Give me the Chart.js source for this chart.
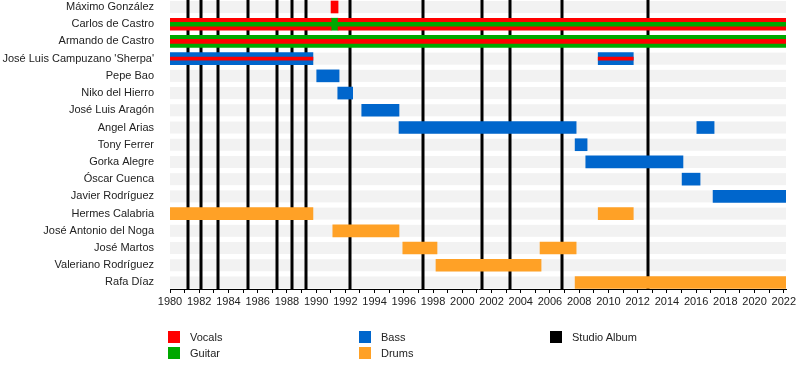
<!DOCTYPE html>
<html>
<head>
<meta charset="utf-8">
<script src="https://cdn.jsdelivr.net/npm/chart.js@4/dist/chart.umd.min.js"></script>
<style>
  body { margin: 0; background: #fff; font-family: "Liberation Sans", Arial, sans-serif; }
  .wrap { position: relative; width: 800px; height: 368px; }
  .key { position: absolute; font-size: 11px; color: #222; line-height: 13px; }
  .key span { position: absolute; left: 0; top: 0; width: 12px; height: 12px; }
  .key b { font-weight: normal; position: absolute; left: 22px; top: 0; white-space: nowrap; }
</style>
</head>
<body>
<div class="wrap">
  <canvas id="timeline" width="800" height="368"></canvas>
  <div class="key" style="left:168px;top:331px"><span style="background:#ff0000"></span><b>Vocals</b></div>
  <div class="key" style="left:168px;top:347px"><span style="background:#00a800"></span><b>Guitar</b></div>
  <div class="key" style="left:359px;top:331px"><span style="background:#0066cc"></span><b>Bass</b></div>
  <div class="key" style="left:359px;top:347px"><span style="background:#ffa126"></span><b>Drums</b></div>
  <div class="key" style="left:550px;top:331px"><span style="background:#000000"></span><b>Studio Album</b></div>
</div>
<script>
// miembros de la banda, de arriba a abajo
const members = [
  "Máximo González", "Carlos de Castro", "Armando de Castro",
  "José Luis Campuzano 'Sherpa'", "Pepe Bao", "Niko del Hierro",
  "José Luis Aragón", "Angel Arias", "Tony Ferrer", "Gorka Alegre",
  "Óscar Cuenca", "Javier Rodríguez", "Hermes Calabria",
  "José Antonio del Noga", "José Martos", "Valeriano Rodríguez", "Rafa Díaz"
];

const startYear = 1980;
const endYear = 2022.15;

// periodos [miembro, inicio, fin]
const vocals = [
  ["Máximo González", 1991.02, 1991.5],
  ["Carlos de Castro", 1980, 1991.02],
  ["Carlos de Castro", 1991.5, endYear]
];
const guitar = [
  ["Armando de Castro", 1980, endYear],
  ["Carlos de Castro", 1991.02, 1991.5]
];
const bass = [
  ["José Luis Campuzano 'Sherpa'", 1980, 1989.78],
  ["José Luis Campuzano 'Sherpa'", 2009.3, 2011.7],
  ["Pepe Bao", 1990.04, 1991.57],
  ["Niko del Hierro", 1991.48, 1992.5],
  ["José Luis Aragón", 1993.12, 1995.67],
  ["Angel Arias", 1995.67, 2007.79],
  ["Angel Arias", 2016.05, 2017.23],
  ["Tony Ferrer", 2007.72, 2008.54],
  ["Gorka Alegre", 2008.45, 2015.1],
  ["Óscar Cuenca", 2015.04, 2016.27],
  ["Javier Rodríguez", 2017.16, endYear]
];
const drums = [
  ["Hermes Calabria", 1980, 1989.78],
  ["Hermes Calabria", 2009.3, 2011.7],
  ["José Antonio del Noga", 1991.14, 1995.67],
  ["José Martos", 1995.93, 1998.27],
  ["José Martos", 2005.32, 2007.79],
  ["Valeriano Rodríguez", 1998.2, 2005.39],
  ["Rafa Díaz", 2007.72, endYear]
];
// lineas finas encima de la barra principal
const vocalLines = [
  ["Armando de Castro", 1980, endYear]
];
const vocalLinesThin = [
  ["José Luis Campuzano 'Sherpa'", 1980, 1989.78],
  ["José Luis Campuzano 'Sherpa'", 2009.3, 2011.7]
];
const guitarLines = [
  ["Carlos de Castro", 1980, endYear]
];

const albums = [1981.22, 1982.14, 1983.28, 1985.34, 1987.32, 1988.38, 1989.28,
  1992.29, 1997.32, 2001.32, 2003.25, 2006.79, 2012.73];

const toPoints = rows => rows.map(r => ({ y: members.indexOf(r[0]), x: [r[1], r[2]] }));

// franjas grises y lineas de discos
const backdrop = {
  id: 'backdrop',
  beforeDatasetsDraw(chart) {
    const { ctx, chartArea, scales } = chart;
    ctx.save();
    ctx.fillStyle = '#f2f2f2';
    members.forEach((m, i) => {
      const y = scales.y.getPixelForValue(i);
      ctx.fillRect(chartArea.left, y - 6, chartArea.right - chartArea.left, 12);
    });
    ctx.strokeStyle = '#000';
    ctx.lineWidth = 3;
    albums.forEach(a => {
      const x = Math.round(scales.x.getPixelForValue(a));
      ctx.beginPath();
      ctx.moveTo(x, chartArea.top);
      ctx.lineTo(x, chartArea.bottom);
      ctx.stroke();
    });
    ctx.restore();
  }
};

const bar = (rows, color, thick) => ({
  data: toPoints(rows),
  backgroundColor: color,
  barThickness: thick,
  borderWidth: 0
});

new Chart(document.getElementById('timeline'), {
  type: 'bar',
  data: {
    datasets: [
      bar(vocalLines, '#ff0000', 4),
      bar(vocalLinesThin, '#ff0000', 3),
      bar(guitarLines, '#00a800', 4),
      bar(vocals, '#ff0000', 12),
      bar(guitar, '#00a800', 12),
      bar(bass, '#0066cc', 12),
      bar(drums, '#ffa126', 12)
    ]
  },
  options: {
    indexAxis: 'y',
    responsive: false,
    animation: false,
    grouped: false,
    layout: { padding: { top: 0, left: 0, right: 14, bottom: 55 } },
    plugins: { legend: { display: false }, tooltip: { enabled: false } },
    scales: {
      x: {
        type: 'linear',
        bounds: 'data',
        min: startYear,
        max: endYear,
        border: { color: '#000', width: 1 },
        grid: { drawOnChartArea: false, drawTicks: true, tickLength: 4, color: '#000' },
        ticks: {
          stepSize: 1,
          autoSkip: false,
          includeBounds: false,
          maxRotation: 0,
          padding: 2,
          color: '#222',
          font: { family: 'Liberation Sans', size: 11 },
          callback: v => (v % 2 === 0 ? String(v) : '')
        },
        afterFit(s) { s.height = 24; s.paddingLeft = 0; s.paddingRight = 0; }
      },
      y: {
        type: 'linear',
        bounds: 'data',
        offset: false,
        reverse: true,
        min: -0.406,
        max: 16.38,
        grid: { display: false, offset: false },
        border: { display: false },
        ticks: {
          padding: 8,
          color: '#222',
          font: { family: 'Liberation Sans', size: 11 },
          callback: v => members[v] || ''
        },
        afterBuildTicks(s) { s.ticks = members.map((m, i) => ({ value: i })); },
        afterFit(s) { s.width = 170; s.paddingTop = 0; s.paddingBottom = 0; }
      }
    }
  },
  plugins: [backdrop]
});
</script>
</body>
</html>
